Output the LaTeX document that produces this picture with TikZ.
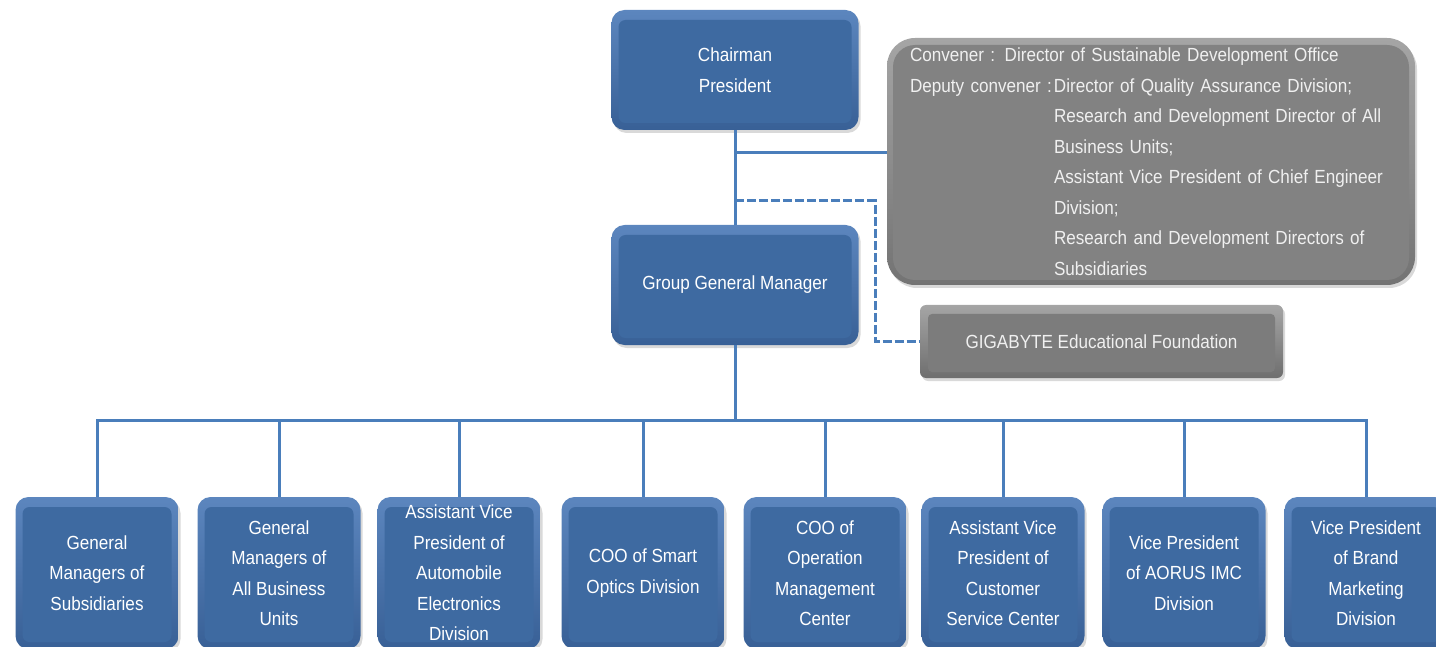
\documentclass[tikz,border=0pt]{standalone}
\usepackage{fontspec}
\setmainfont{Liberation Sans}[FakeStretch=0.9]
\usetikzlibrary{shadows}

\definecolor{linkblue}{RGB}{74,126,187}
\definecolor{boxblue}{RGB}{62,106,161}
\definecolor{bevelhi}{RGB}{92,134,190}
\definecolor{bevello}{RGB}{56,96,150}
\definecolor{convgray}{RGB}{130,130,130}
\definecolor{convhi}{RGB}{165,165,165}
\definecolor{convlo}{RGB}{115,115,115}
\definecolor{foundgray}{RGB}{124,124,124}
\definecolor{foundhi}{RGB}{165,165,165}
\definecolor{foundlo}{RGB}{110,110,110}
\definecolor{softwhite}{RGB}{240,240,240}

\tikzset{
  orgtext/.style={text=white, font=\fontsize{19}{30.5}\selectfont, align=center, inner sep=0pt},
  softshadow/.style={drop shadow={opacity=0.3, shadow xshift=2pt, shadow yshift=-3pt}},
  % bevelled blue box: lighter rim, flat inner face
  bluebox/.style={orgtext, rounded corners=13pt, top color=bevelhi, bottom color=bevello, softshadow,
    path picture={\fill[boxblue, rounded corners=7pt]
      ([shift={(7pt,-10pt)}]path picture bounding box.north west) rectangle
      ([shift={(-7pt,7pt)}]path picture bounding box.south east);}},
  topbox/.style={bluebox, minimum width=247pt, minimum height=120pt},
  unitbox/.style={bluebox, minimum width=163pt, minimum height=152pt},
  convbox/.style={rounded corners=28pt, top color=convhi, bottom color=convlo, softshadow,
    text=softwhite, font=\fontsize{19}{30.5}\selectfont, align=left,
    inner xsep=23pt, inner ysep=0pt, text width=482pt, minimum height=247pt,
    path picture={\fill[convgray, rounded corners=22pt]
      ([shift={(6pt,-7pt)}]path picture bounding box.north west) rectangle
      ([shift={(-6pt,5pt)}]path picture bounding box.south east);}},
  foundbox/.style={orgtext, text=softwhite, rounded corners=6pt, top color=foundhi, bottom color=foundlo, softshadow,
    minimum width=363pt, minimum height=73pt,
    path picture={\fill[foundgray, rounded corners=4pt]
      ([shift={(8pt,-9pt)}]path picture bounding box.north west) rectangle
      ([shift={(-8pt,6pt)}]path picture bounding box.south east);}},
  link/.style={draw=linkblue, line width=3pt},
  dashlink/.style={link, dash pattern=on 9pt off 3pt},
}

\begin{document}
\begin{tikzpicture}[x=1pt, y=-1pt]
  \useasboundingbox (0,0) rectangle (1436,647);

  % top of the hierarchy
  \node[topbox] (chair) at (735,70) {Chairman\\President};
  \node[topbox] (ggm) at (735,285) {Group General Manager};

  % committee and foundation
  \node[convbox] (conv) at (1151,161.5) {%
    Convener : Director of Sustainable Development Office\\
    \makebox[144pt][l]{Deputy convener :}Director of Quality  Assurance Division;\\
    \hspace*{144pt}Research and Development  Director of All\\
    \hspace*{144pt}Business Units;\\
    \hspace*{144pt}Assistant Vice President of Chief Engineer\\
    \hspace*{144pt}Division;\\
    \hspace*{144pt}Research and Development Directors of\\
    \hspace*{144pt}Subsidiaries};
  \node[foundbox] (gig) at (1101.5,341.5) {GIGABYTE Educational Foundation};

  % business units
  \node[unitbox] (u1) at (97,573)   {General\\Managers of\\Subsidiaries};
  \node[unitbox] (u2) at (279,573)  {General\\Managers of\\All Business\\Units};
  \node[unitbox] (u3) at (459,573)  {Assistant Vice\\President of\\Automobile\\Electronics\\Division};
  \node[unitbox] (u4) at (643,573)  {COO of Smart\\Optics Division};
  \node[unitbox] (u5) at (825,573)  {COO of\\Operation\\Management\\Center};
  \node[unitbox] (u6) at (1003,573) {Assistant Vice\\President of\\Customer\\Service Center};
  \node[unitbox] (u7) at (1184,573) {Vice President\\of AORUS IMC\\Division};
  \node[unitbox] (u8) at (1366,573) {Vice President\\of Brand\\Marketing\\Division};

  % junction points
  \coordinate (cj) at (735,153);
  \coordinate (dj) at (735,201);
  \coordinate (dk) at (875,201);
  \coordinate (bus) at (735,420);

  % connectors
  \draw[link] (chair.south) -- (ggm.north);
  \draw[link] (cj) -- (cj -| conv.west);
  \draw[dashlink] (dj) -- (dk) |- (gig.west);
  \draw[link] (ggm.south) -- (bus);
  \foreach \u in {u1,u2,u3,u4,u5,u6,u7,u8}
    \draw[link] (\u.north) |- (bus);
\end{tikzpicture}
\end{document}
